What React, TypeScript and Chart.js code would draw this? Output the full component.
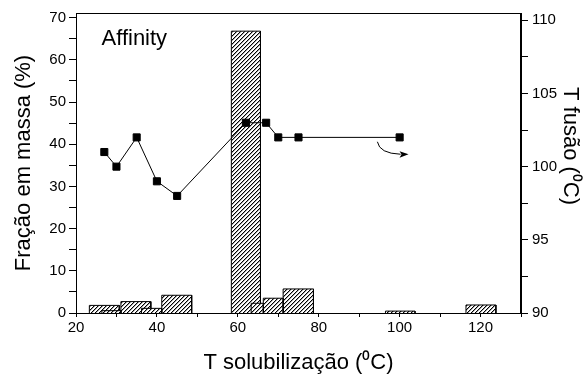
import React, { useEffect, useRef } from "react";
import { Chart, registerables } from "chart.js";

Chart.register(...registerables);

// Histogram: mass fraction (%) per solubilization-temperature bin
const binStart = [23.3, 26.4, 31.1, 36.2, 41.2, 58.4, 63.3, 66.3, 71.2, 96.5, 116.4];
const binEnd = [30.7, 31.1, 38.5, 41.2, 48.6, 65.6, 66.3, 71.2, 78.7, 103.8, 123.8];
const massFraction = [1.8, 0.55, 2.7, 1.1, 4.2, 66.8, 2.3, 3.5, 5.7, 0.45, 1.9];

// Melting temperature series (right axis)
const meltSolT = [27, 30, 35, 40, 45, 62, 67, 70, 75, 100];
const meltT = [101, 100, 102, 99, 98, 103, 103, 102, 102, 102];

// Tick labels
const xTickLabels = [20, 40, 60, 80, 100, 120];
const leftTickLabels = [0, 10, 20, 30, 40, 50, 60, 70];
const rightTickLabels = [90, 95, 100, 105, 110];

const FONT = "'Liberation Sans', Arial, Helvetica, sans-serif";

function makeHatch(): CanvasPattern | string {
  const s = 4;
  const c = document.createElement("canvas");
  c.width = s;
  c.height = s;
  const g = c.getContext("2d");
  if (!g) return "#fff";
  g.fillStyle = "#fff";
  g.fillRect(0, 0, s, s);
  g.fillStyle = "#000";
  for (let i = 0; i < s; i++) g.fillRect(i, s - 1 - i, 1, 1);
  g.fillStyle = "rgba(0,0,0,0.35)";
  for (let i = 0; i < s; i++) g.fillRect((i + 1) % s, s - 1 - i, 1, 1);
  return g.createPattern(c, "repeat") || "#fff";
}

const framePlugin = {
  id: "frame",
  afterDatasetsDraw(chart: any) {
    const { ctx, chartArea: a } = chart;
    ctx.save();
    ctx.strokeStyle = "#000";
    ctx.lineWidth = 1;
    ctx.strokeRect(Math.round(a.left) + 0.5, Math.round(a.top) + 0.5, Math.round(a.right - a.left) - 1, Math.round(a.bottom - a.top));
    ctx.restore();
  },
};

// annotation positions in data units
const affinityLabel = { x: 26.3, y: 63.6 };
const arrowStart = { x: 94.5, y: 101.7 };
const arrowCtrl = { x: 95.0, y: 100.9 };
const arrowEnd = { x: 102.2, y: 100.85 };

const annotationPlugin = {
  id: "annot",
  afterDatasetsDraw(chart: any) {
    const { ctx } = chart;
    const x = chart.scales.x;
    const y = chart.scales.y;
    const y2 = chart.scales.y2;
    ctx.save();
    ctx.fillStyle = "#000";
    ctx.font = `22px ${FONT}`;
    ctx.textAlign = "left";
    ctx.textBaseline = "alphabetic";
    ctx.fillText("Affinity", x.getPixelForValue(affinityLabel.x), y.getPixelForValue(affinityLabel.y));

    // curved arrow pointing to the right axis
    const sx = x.getPixelForValue(arrowStart.x), sy = y2.getPixelForValue(arrowStart.y);
    const cx = x.getPixelForValue(arrowCtrl.x), cy = y2.getPixelForValue(arrowCtrl.y);
    const ex = x.getPixelForValue(arrowEnd.x), ey = y2.getPixelForValue(arrowEnd.y);
    const bx = ex - 8;
    ctx.strokeStyle = "#000";
    ctx.lineWidth = 1;
    ctx.beginPath();
    ctx.moveTo(sx, sy);
    ctx.quadraticCurveTo(cx, cy, bx, ey);
    ctx.stroke();
    ctx.beginPath();
    ctx.moveTo(ex, ey);
    ctx.lineTo(bx - 1, ey - 3);
    ctx.lineTo(bx + 1, ey);
    ctx.lineTo(bx - 1, ey + 3.5);
    ctx.closePath();
    ctx.fill();

    // right axis title (rotated clockwise)
    ctx.font = `22px ${FONT}`;
    ctx.translate(570.5, 87);
    ctx.rotate(Math.PI / 2);
    ctx.textAlign = "left";
    ctx.textBaseline = "middle";
    ctx.fillText("T fusão (⁰C)", 0, 0);
    ctx.restore();
  },
};

export default function App() {
  const ref = useRef<HTMLCanvasElement | null>(null);

  useEffect(() => {
    if (!ref.current) return;
    const hatch = makeHatch();

    const barSets = binStart.map((s, i) => {
      const e = binEnd[i];
      const h = massFraction[i];
      return {
        type: "line" as const,
        label: `bin${i}`,
        data: [
          { x: s, y: 0 },
          { x: s, y: h },
          { x: e, y: h },
          { x: e, y: 0 },
        ],
        yAxisID: "y",
        borderColor: "#000",
        borderWidth: 1,
        backgroundColor: hatch,
        fill: "origin",
        pointRadius: 0,
        tension: 0,
        order: 1 + h,
      };
    });

    const meltSet = {
      type: "line" as const,
      label: "T fusão",
      data: meltSolT.map((v, i) => ({ x: v, y: meltT[i] })),
      yAxisID: "y2",
      borderColor: "#000",
      borderWidth: 1,
      pointStyle: "rect",
      pointRadius: 5,
      pointBackgroundColor: "#000",
      pointBorderColor: "#000",
      fill: false,
      tension: 0,
      order: 0,
    };

    const tickFont = { family: FONT, size: 15 };
    const titleFont = { family: FONT, size: 22 };

    const chart = new Chart(ref.current, {
      type: "line",
      data: { datasets: [meltSet as any, ...(barSets as any[])] },
      options: {
        animation: false,
        responsive: true,
        maintainAspectRatio: false,
        layout: { padding: { top: 11, left: 0, right: 0, bottom: 0 } },
        plugins: { legend: { display: false }, tooltip: { enabled: false } },
        scales: {
          x: {
            type: "linear",
            min: 20,
            max: 130,
            afterFit: (s: any) => {
              s.height = 64;
            },
            ticks: {
              stepSize: 10,
              autoSkip: false,
              maxRotation: 0,
              includeBounds: false,
              padding: 2,
              color: "#000",
              font: tickFont,
              callback: (v: any) => (xTickLabels.includes(Number(v)) ? String(v) : ""),
            },
            grid: { drawOnChartArea: false, drawTicks: true, tickLength: 4, tickColor: "#000" },
            border: { display: true, color: "#000", width: 1 },
            title: {
              display: true,
              text: "T solubilização (⁰C)",
              color: "#000",
              font: titleFont,
              padding: { top: 0, bottom: 1 },
            },
          },
          y: {
            type: "linear",
            position: "left",
            min: 0,
            max: 71.1,
            afterFit: (s: any) => {
              s.width = 76;
            },
            ticks: {
              stepSize: 5,
              autoSkip: false,
              includeBounds: false,
              padding: 3,
              color: "#000",
              font: tickFont,
              callback: (v: any) => (leftTickLabels.includes(Number(v)) ? String(v) : ""),
            },
            grid: { drawOnChartArea: false, drawTicks: true, tickLength: 7, tickColor: "#000" },
            border: { display: true, color: "#000", width: 1 },
            title: {
              display: true,
              text: "Fração em massa (%)",
              color: "#000",
              font: titleFont,
              padding: { top: 11, bottom: 0 },
            },
          },
          y2: {
            type: "linear",
            position: "right",
            min: 90,
            max: 110.5,
            afterFit: (s: any) => {
              s.width = 63;
            },
            ticks: {
              stepSize: 2.5,
              autoSkip: false,
              includeBounds: false,
              padding: 4,
              color: "#000",
              font: tickFont,
              callback: (v: any) => (rightTickLabels.includes(Number(v)) ? String(v) : ""),
            },
            grid: { drawOnChartArea: false, drawTicks: true, tickLength: 7, tickColor: "#000" },
            border: { display: true, color: "#000", width: 1 },
          },
        },
      },
      plugins: [framePlugin, annotationPlugin],
    } as any);

    return () => chart.destroy();
  }, []);

  return (
    <div style={{ position: "absolute", left: 0, top: 0, width: 584, height: 377, background: "#fff" }}>
      <canvas ref={ref} />
    </div>
  );
}
